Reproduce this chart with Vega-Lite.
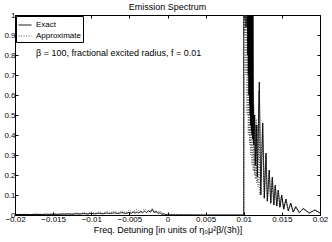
{
  "$schema": "https://vega.github.io/schema/vega-lite/v6.json",
  "width": 305,
  "height": 200,
  "autosize": {"type": "none"},
  "padding": {"left": 15, "top": 15, "right": 12, "bottom": 27},
  "background": "white",
  "title": {"text": "Emission Spectrum", "fontSize": 9, "fontWeight": "normal", "font": "Liberation Sans", "offset": -1, "color": "black"},
  "config": {
    "view": {"stroke": "black", "strokeWidth": 1},
    "axis": {"domain": false, "grid": false, "tickSize": -3, "tickColor": "black", "labelFont": "Liberation Sans", "labelFontSize": 8, "labelColor": "black", "labelOverlap": false, "labelFlush": false, "labelBound": false, "labelPadding": 3, "titleFont": "Liberation Sans", "titleFontSize": 9, "titleFontWeight": "normal", "titleColor": "black"},
    "legend": {"orient": "top-left", "offset": 1, "title": null, "labelFont": "Liberation Sans", "labelFontSize": 8, "labelColor": "black", "symbolType": "stroke", "symbolSize": 169, "symbolStrokeWidth": 1, "strokeColor": "black", "fillColor": "white", "padding": 2, "rowPadding": -9, "labelOffset": 4}
  },
  "layer": [
    {
      "data": {"values": [
        {"series": "Approximate", "i": 0, "x": -0.02, "y": 0.001},
        {"series": "Approximate", "i": 1, "x": -0.019, "y": 0.004},
        {"series": "Approximate", "i": 2, "x": -0.018, "y": 0.002},
        {"series": "Approximate", "i": 3, "x": -0.017, "y": 0.005},
        {"series": "Approximate", "i": 4, "x": -0.016, "y": 0.002},
        {"series": "Approximate", "i": 5, "x": -0.015, "y": 0.006},
        {"series": "Approximate", "i": 6, "x": -0.014, "y": 0.003},
        {"series": "Approximate", "i": 7, "x": -0.013, "y": 0.007},
        {"series": "Approximate", "i": 8, "x": -0.0125, "y": 0.004},
        {"series": "Approximate", "i": 9, "x": -0.012, "y": 0.012},
        {"series": "Approximate", "i": 10, "x": -0.0115, "y": 0.005},
        {"series": "Approximate", "i": 11, "x": -0.011, "y": 0.013},
        {"series": "Approximate", "i": 12, "x": -0.0105, "y": 0.006},
        {"series": "Approximate", "i": 13, "x": -0.01, "y": 0.015},
        {"series": "Approximate", "i": 14, "x": -0.0095, "y": 0.007},
        {"series": "Approximate", "i": 15, "x": -0.009, "y": 0.016},
        {"series": "Approximate", "i": 16, "x": -0.0085, "y": 0.008},
        {"series": "Approximate", "i": 17, "x": -0.008, "y": 0.018},
        {"series": "Approximate", "i": 18, "x": -0.0075, "y": 0.009},
        {"series": "Approximate", "i": 19, "x": -0.007, "y": 0.02},
        {"series": "Approximate", "i": 20, "x": -0.0065, "y": 0.01},
        {"series": "Approximate", "i": 21, "x": -0.006, "y": 0.022},
        {"series": "Approximate", "i": 22, "x": -0.0055, "y": 0.011},
        {"series": "Approximate", "i": 23, "x": -0.005, "y": 0.025},
        {"series": "Approximate", "i": 24, "x": -0.0045, "y": 0.012},
        {"series": "Approximate", "i": 25, "x": -0.004, "y": 0.03},
        {"series": "Approximate", "i": 26, "x": -0.0035, "y": 0.013},
        {"series": "Approximate", "i": 27, "x": -0.003, "y": 0.033},
        {"series": "Approximate", "i": 28, "x": -0.0025, "y": 0.014},
        {"series": "Approximate", "i": 29, "x": -0.002, "y": 0.032},
        {"series": "Approximate", "i": 30, "x": -0.0015, "y": 0.01},
        {"series": "Approximate", "i": 31, "x": -0.001, "y": 0.02},
        {"series": "Approximate", "i": 32, "x": -0.0005, "y": 0.004},
        {"series": "Approximate", "i": 33, "x": 0.0, "y": 0.002},
        {"series": "Approximate", "i": 34, "x": 0.005, "y": 0.0},
        {"series": "Approximate", "i": 35, "x": 0.01003, "y": 0.0},
        {"series": "Approximate", "i": 36, "x": 0.01003, "y": 1.5},
        {"series": "Approximate", "i": 37, "x": 0.01012, "y": 0.9},
        {"series": "Approximate", "i": 38, "x": 0.0102, "y": 1.5},
        {"series": "Approximate", "i": 39, "x": 0.01028, "y": 0.7},
        {"series": "Approximate", "i": 40, "x": 0.01036, "y": 1.4},
        {"series": "Approximate", "i": 41, "x": 0.01044, "y": 0.5},
        {"series": "Approximate", "i": 42, "x": 0.01052, "y": 1.3},
        {"series": "Approximate", "i": 43, "x": 0.0106, "y": 0.4},
        {"series": "Approximate", "i": 44, "x": 0.01068, "y": 1.2},
        {"series": "Approximate", "i": 45, "x": 0.01076, "y": 0.35},
        {"series": "Approximate", "i": 46, "x": 0.01084, "y": 1.1},
        {"series": "Approximate", "i": 47, "x": 0.01092, "y": 0.3},
        {"series": "Approximate", "i": 48, "x": 0.011, "y": 0.95},
        {"series": "Approximate", "i": 49, "x": 0.01108, "y": 0.25},
        {"series": "Approximate", "i": 50, "x": 0.01116, "y": 0.75},
        {"series": "Approximate", "i": 51, "x": 0.01124, "y": 0.22},
        {"series": "Approximate", "i": 52, "x": 0.01132, "y": 0.55},
        {"series": "Approximate", "i": 53, "x": 0.0114, "y": 0.2},
        {"series": "Approximate", "i": 54, "x": 0.01148, "y": 0.5},
        {"series": "Approximate", "i": 55, "x": 0.01156, "y": 0.18},
        {"series": "Approximate", "i": 56, "x": 0.01164, "y": 0.48},
        {"series": "Approximate", "i": 57, "x": 0.01172, "y": 0.16},
        {"series": "Approximate", "i": 58, "x": 0.0118, "y": 0.45},
        {"series": "Approximate", "i": 59, "x": 0.01188, "y": 0.14},
        {"series": "Approximate", "i": 60, "x": 0.01198, "y": 0.62},
        {"series": "Approximate", "i": 61, "x": 0.01212, "y": 0.1},
        {"series": "Approximate", "i": 62, "x": 0.01245, "y": 0.44},
        {"series": "Approximate", "i": 63, "x": 0.01268, "y": 0.08},
        {"series": "Approximate", "i": 64, "x": 0.01288, "y": 0.3},
        {"series": "Approximate", "i": 65, "x": 0.01308, "y": 0.065},
        {"series": "Approximate", "i": 66, "x": 0.01331, "y": 0.22},
        {"series": "Approximate", "i": 67, "x": 0.01352, "y": 0.055},
        {"series": "Approximate", "i": 68, "x": 0.01371, "y": 0.18},
        {"series": "Approximate", "i": 69, "x": 0.01392, "y": 0.048},
        {"series": "Approximate", "i": 70, "x": 0.0141, "y": 0.145},
        {"series": "Approximate", "i": 71, "x": 0.01432, "y": 0.042},
        {"series": "Approximate", "i": 72, "x": 0.01449, "y": 0.12},
        {"series": "Approximate", "i": 73, "x": 0.01472, "y": 0.036},
        {"series": "Approximate", "i": 74, "x": 0.01494, "y": 0.095},
        {"series": "Approximate", "i": 75, "x": 0.01522, "y": 0.028},
        {"series": "Approximate", "i": 76, "x": 0.0155, "y": 0.076},
        {"series": "Approximate", "i": 77, "x": 0.01582, "y": 0.019},
        {"series": "Approximate", "i": 78, "x": 0.01612, "y": 0.057},
        {"series": "Approximate", "i": 79, "x": 0.01646, "y": 0.014},
        {"series": "Approximate", "i": 80, "x": 0.01678, "y": 0.04},
        {"series": "Approximate", "i": 81, "x": 0.01726, "y": 0.011},
        {"series": "Approximate", "i": 82, "x": 0.01776, "y": 0.031},
        {"series": "Approximate", "i": 83, "x": 0.01855, "y": 0.009},
        {"series": "Approximate", "i": 84, "x": 0.01928, "y": 0.024},
        {"series": "Approximate", "i": 85, "x": 0.02, "y": 0.009},
        {"series": "Exact", "i": 0, "x": -0.02, "y": 0.002},
        {"series": "Exact", "i": 1, "x": -0.0195, "y": 0.003},
        {"series": "Exact", "i": 2, "x": -0.019, "y": 0.002},
        {"series": "Exact", "i": 3, "x": -0.0185, "y": 0.003},
        {"series": "Exact", "i": 4, "x": -0.018, "y": 0.002},
        {"series": "Exact", "i": 5, "x": -0.0175, "y": 0.003},
        {"series": "Exact", "i": 6, "x": -0.017, "y": 0.003},
        {"series": "Exact", "i": 7, "x": -0.0165, "y": 0.002},
        {"series": "Exact", "i": 8, "x": -0.016, "y": 0.004},
        {"series": "Exact", "i": 9, "x": -0.0155, "y": 0.003},
        {"series": "Exact", "i": 10, "x": -0.015, "y": 0.004},
        {"series": "Exact", "i": 11, "x": -0.0145, "y": 0.003},
        {"series": "Exact", "i": 12, "x": -0.014, "y": 0.005},
        {"series": "Exact", "i": 13, "x": -0.0135, "y": 0.004},
        {"series": "Exact", "i": 14, "x": -0.013, "y": 0.005},
        {"series": "Exact", "i": 15, "x": -0.0125, "y": 0.004},
        {"series": "Exact", "i": 16, "x": -0.012, "y": 0.006},
        {"series": "Exact", "i": 17, "x": -0.0115, "y": 0.005},
        {"series": "Exact", "i": 18, "x": -0.011, "y": 0.007},
        {"series": "Exact", "i": 19, "x": -0.0105, "y": 0.005},
        {"series": "Exact", "i": 20, "x": -0.01, "y": 0.008},
        {"series": "Exact", "i": 21, "x": -0.0095, "y": 0.006},
        {"series": "Exact", "i": 22, "x": -0.009, "y": 0.009},
        {"series": "Exact", "i": 23, "x": -0.0085, "y": 0.006},
        {"series": "Exact", "i": 24, "x": -0.008, "y": 0.01},
        {"series": "Exact", "i": 25, "x": -0.0075, "y": 0.007},
        {"series": "Exact", "i": 26, "x": -0.007, "y": 0.011},
        {"series": "Exact", "i": 27, "x": -0.0065, "y": 0.007},
        {"series": "Exact", "i": 28, "x": -0.006, "y": 0.012},
        {"series": "Exact", "i": 29, "x": -0.0055, "y": 0.008},
        {"series": "Exact", "i": 30, "x": -0.005, "y": 0.013},
        {"series": "Exact", "i": 31, "x": -0.00475, "y": 0.009},
        {"series": "Exact", "i": 32, "x": -0.0045, "y": 0.015},
        {"series": "Exact", "i": 33, "x": -0.00425, "y": 0.009},
        {"series": "Exact", "i": 34, "x": -0.004, "y": 0.016},
        {"series": "Exact", "i": 35, "x": -0.00375, "y": 0.01},
        {"series": "Exact", "i": 36, "x": -0.0035, "y": 0.018},
        {"series": "Exact", "i": 37, "x": -0.00325, "y": 0.011},
        {"series": "Exact", "i": 38, "x": -0.003, "y": 0.02},
        {"series": "Exact", "i": 39, "x": -0.00275, "y": 0.012},
        {"series": "Exact", "i": 40, "x": -0.0025, "y": 0.022},
        {"series": "Exact", "i": 41, "x": -0.00225, "y": 0.014},
        {"series": "Exact", "i": 42, "x": -0.002, "y": 0.028},
        {"series": "Exact", "i": 43, "x": -0.00175, "y": 0.012},
        {"series": "Exact", "i": 44, "x": -0.0015, "y": 0.02},
        {"series": "Exact", "i": 45, "x": -0.00125, "y": 0.008},
        {"series": "Exact", "i": 46, "x": -0.001, "y": 0.012},
        {"series": "Exact", "i": 47, "x": -0.00075, "y": 0.004},
        {"series": "Exact", "i": 48, "x": -0.0005, "y": 0.006},
        {"series": "Exact", "i": 49, "x": -0.00025, "y": 0.002},
        {"series": "Exact", "i": 50, "x": 0.0, "y": 0.001},
        {"series": "Exact", "i": 51, "x": 0.005, "y": 0.0},
        {"series": "Exact", "i": 52, "x": 0.01, "y": 0.0},
        {"series": "Exact", "i": 53, "x": 0.01, "y": 1.8},
        {"series": "Exact", "i": 54, "x": 0.01008, "y": 1.2},
        {"series": "Exact", "i": 55, "x": 0.01016, "y": 1.7},
        {"series": "Exact", "i": 56, "x": 0.0103, "y": 0.94},
        {"series": "Exact", "i": 57, "x": 0.0104, "y": 1.6},
        {"series": "Exact", "i": 58, "x": 0.01044, "y": 1.0},
        {"series": "Exact", "i": 59, "x": 0.01048, "y": 1.7},
        {"series": "Exact", "i": 60, "x": 0.01052, "y": 0.8},
        {"series": "Exact", "i": 61, "x": 0.01056, "y": 1.6},
        {"series": "Exact", "i": 62, "x": 0.0106, "y": 0.7},
        {"series": "Exact", "i": 63, "x": 0.01064, "y": 1.6},
        {"series": "Exact", "i": 64, "x": 0.01068, "y": 0.6},
        {"series": "Exact", "i": 65, "x": 0.01072, "y": 1.5},
        {"series": "Exact", "i": 66, "x": 0.01076, "y": 0.55},
        {"series": "Exact", "i": 67, "x": 0.0108, "y": 1.5},
        {"series": "Exact", "i": 68, "x": 0.01084, "y": 0.5},
        {"series": "Exact", "i": 69, "x": 0.01088, "y": 1.4},
        {"series": "Exact", "i": 70, "x": 0.01092, "y": 0.45},
        {"series": "Exact", "i": 71, "x": 0.01096, "y": 1.4},
        {"series": "Exact", "i": 72, "x": 0.011, "y": 0.42},
        {"series": "Exact", "i": 73, "x": 0.01104, "y": 1.3},
        {"series": "Exact", "i": 74, "x": 0.01108, "y": 0.4},
        {"series": "Exact", "i": 75, "x": 0.01112, "y": 1.2},
        {"series": "Exact", "i": 76, "x": 0.01116, "y": 0.38},
        {"series": "Exact", "i": 77, "x": 0.0112, "y": 1.1},
        {"series": "Exact", "i": 78, "x": 0.0113, "y": 0.35},
        {"series": "Exact", "i": 79, "x": 0.0114, "y": 0.5},
        {"series": "Exact", "i": 80, "x": 0.01152, "y": 0.25},
        {"series": "Exact", "i": 81, "x": 0.01164, "y": 0.45},
        {"series": "Exact", "i": 82, "x": 0.01178, "y": 0.19},
        {"series": "Exact", "i": 83, "x": 0.01204, "y": 0.665},
        {"series": "Exact", "i": 84, "x": 0.01224, "y": 0.1},
        {"series": "Exact", "i": 85, "x": 0.01249, "y": 0.46},
        {"series": "Exact", "i": 86, "x": 0.0127, "y": 0.085},
        {"series": "Exact", "i": 87, "x": 0.01292, "y": 0.31},
        {"series": "Exact", "i": 88, "x": 0.0131, "y": 0.07},
        {"series": "Exact", "i": 89, "x": 0.01335, "y": 0.225},
        {"series": "Exact", "i": 90, "x": 0.01355, "y": 0.06},
        {"series": "Exact", "i": 91, "x": 0.01375, "y": 0.19},
        {"series": "Exact", "i": 92, "x": 0.01395, "y": 0.05},
        {"series": "Exact", "i": 93, "x": 0.01414, "y": 0.15},
        {"series": "Exact", "i": 94, "x": 0.01434, "y": 0.045},
        {"series": "Exact", "i": 95, "x": 0.01453, "y": 0.125},
        {"series": "Exact", "i": 96, "x": 0.01475, "y": 0.04},
        {"series": "Exact", "i": 97, "x": 0.01498, "y": 0.1},
        {"series": "Exact", "i": 98, "x": 0.01525, "y": 0.03},
        {"series": "Exact", "i": 99, "x": 0.01554, "y": 0.08},
        {"series": "Exact", "i": 100, "x": 0.01585, "y": 0.02},
        {"series": "Exact", "i": 101, "x": 0.01616, "y": 0.06},
        {"series": "Exact", "i": 102, "x": 0.0165, "y": 0.015},
        {"series": "Exact", "i": 103, "x": 0.01682, "y": 0.042},
        {"series": "Exact", "i": 104, "x": 0.0173, "y": 0.012},
        {"series": "Exact", "i": 105, "x": 0.01781, "y": 0.033},
        {"series": "Exact", "i": 106, "x": 0.0186, "y": 0.01},
        {"series": "Exact", "i": 107, "x": 0.01934, "y": 0.025},
        {"series": "Exact", "i": 108, "x": 0.02, "y": 0.01}
      ]},
      "mark": {"type": "line", "clip": true, "strokeWidth": 1},
      "encoding": {
        "x": {"field": "x", "type": "quantitative", "scale": {"domain": [-0.02, 0.02], "nice": false, "zero": false},
              "axis": {"orient": "bottom", "values": [-0.02, -0.015, -0.01, -0.005, 0, 0.005, 0.01, 0.015, 0.02], "format": "~g", "title": "Freq. Detuning [in units of η₀μ²β/(3h)]", "titlePadding": 2}},
        "y": {"field": "y", "type": "quantitative", "scale": {"domain": [0, 1], "nice": false, "zero": false},
              "axis": {"orient": "left", "values": [0, 0.1, 0.2, 0.3, 0.4, 0.5, 0.6, 0.7, 0.8, 0.9, 1], "format": "~g", "title": null}},
        "order": {"field": "i", "type": "quantitative"},
        "color": {"field": "series", "type": "nominal", "scale": {"domain": ["Exact", "Approximate"], "range": ["black", "#555555"]}},
        "strokeDash": {"field": "series", "type": "nominal", "scale": {"domain": ["Exact", "Approximate"], "range": [[1, 0], [1, 1.5]]}}
      }
    },
    {
      "data": {"values": [{"x": -0.01725, "y": 0.81, "label": "β = 100, fractional excited radius, f = 0.01"}]},
      "mark": {"type": "text", "align": "left", "baseline": "middle", "fontSize": 9, "font": "Liberation Sans", "color": "black"},
      "encoding": {
        "x": {"field": "x", "type": "quantitative", "axis": {"orient": "top", "values": [-0.02, -0.015, -0.01, -0.005, 0, 0.005, 0.01, 0.015, 0.02], "labels": false, "title": null}},
        "y": {"field": "y", "type": "quantitative", "axis": {"orient": "right", "values": [0, 0.1, 0.2, 0.3, 0.4, 0.5, 0.6, 0.7, 0.8, 0.9, 1], "labels": false, "title": null}},
        "text": {"field": "label"}
      }
    }
  ]
}
